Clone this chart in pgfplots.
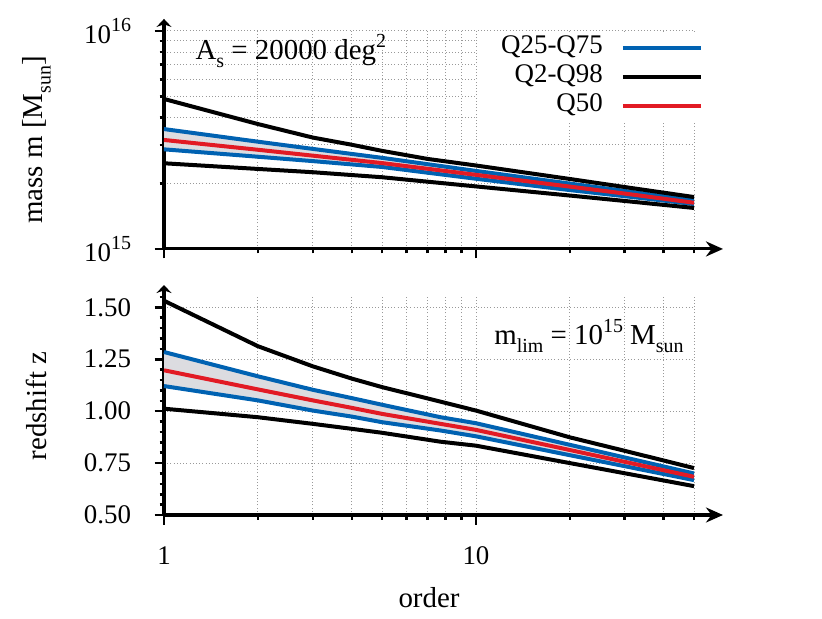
\documentclass[border=0pt]{standalone}
\usepackage{fontspec}
\setmainfont{Liberation Serif}
\usepackage{pgfplots}
\pgfplotsset{compat=1.18}
\usetikzlibrary{arrows.meta}
\definecolor{qblue}{RGB}{0,98,178}
\definecolor{qred}{RGB}{226,26,36}
\definecolor{qfill}{RGB}{220,220,224}
\newcommand{\fs}{\fontsize{29}{34}\selectfont}
\newcommand{\ft}{\fontsize{27}{32}\selectfont}
\newcommand{\sups}[1]{\raisebox{0.44em}{\fontsize{20}{20}\selectfont #1}}
\newcommand{\subs}[1]{\raisebox{-0.27em}{\fontsize{20}{20}\selectfont #1}}
\tikzset{qcurve/.style={line width=4bp, line join=round}}
\begin{document}
\begin{tikzpicture}
\path[use as bounding box] (0,0) rectangle (822bp,619bp);
% ---------- top panel ----------
\begin{axis}[at={(164bp,370bp)}, anchor=south west,
  scale only axis, width=530bp, height=218bp,
  xmode=log, xmin=1, xmax=50,
  xtick={1,10}, minor xtick={2,3,4,5,6,7,8,9,20,30,40,50},
  axis lines=left,
  axis line style={line width=3bp},
  x axis line style={-{Stealth[length=17bp,width=15bp]}, shorten >=-29bp},
  y axis line style={-{Stealth[length=8bp,width=15bp]}, shorten >=-12bp},
  tick align=outside,
  major tick length=9.5bp, minor tick length=4.5bp,
  tick style={line width=2.6bp, black},
  grid style={gray!80, line width=0.9bp, dash pattern=on 1bp off 2.2bp},
  minor grid style={gray!80, line width=0.9bp, dash pattern=on 1bp off 2.2bp},
  tick label style={font=\ft},
  yticklabel style={xshift=-20bp},
  label style={font=\fs},
  ylabel style={at={(axis description cs:-0.24,0.5)}, anchor=center},
  clip=false,
  ymode=log, ymin=1e15, ymax=1e16,
  ytick={1e15,1e16}, yticklabels={10\sups{15},10\sups{16}},
  xticklabels={}, grid=both,
  ylabel={mass m [M\subs{sun}]},
  legend cell align=right, legend plot pos=right, legend columns=1,
  legend style={at={(rel axis cs:1.0604,0.992)}, anchor=north east,
    draw=none, fill=white, font=\ft, inner xsep=23bp, inner ysep=1bp,
    column sep=18bp,
    nodes={inner sep=0pt, text height=20bp, text depth=9bp}},
  legend image code/.code={\draw[#1] (0bp,0bp) -- (78bp,0bp);},
]
\addplot[draw=none, fill=qfill, forget plot] coordinates {(1,3.548e15)(2,3.105e15)(3,2.877e15)(5,2.618e15)(10,2.280e15)(20,1.995e15)(30,1.845e15)(50,1.671e15)(50,1.607e15)(30,1.746e15)(20,1.862e15)(10,2.099e15)(5,2.377e15)(3,2.529e15)(2,2.649e15)(1,2.864e15)} -- cycle;
\addplot[qcurve, qblue, forget plot] coordinates {(1,3.548e15)(2,3.105e15)(3,2.877e15)(5,2.618e15)(10,2.280e15)(20,1.995e15)(30,1.845e15)(50,1.671e15)};
\addplot[qcurve, qblue, forget plot] coordinates {(1,2.864e15)(2,2.649e15)(3,2.529e15)(5,2.377e15)(10,2.099e15)(20,1.862e15)(30,1.746e15)(50,1.607e15)};
\addplot[qcurve, black, forget plot] coordinates {(1,4.875e15)(2,3.741e15)(3,3.243e15)(4,3.006e15)(5,2.818e15)(7,2.588e15)(10,2.415e15)(20,2.094e15)(30,1.923e15)(50,1.730e15)};
\addplot[qcurve, black, forget plot] coordinates {(1,2.472e15)(2,2.328e15)(3,2.249e15)(5,2.133e15)(10,1.936e15)(20,1.758e15)(30,1.660e15)(50,1.542e15)};
\addplot[qcurve, qred, forget plot] coordinates {(1,3.162e15)(2,2.851e15)(3,2.679e15)(5,2.477e15)(10,2.188e15)(20,1.932e15)(30,1.795e15)(50,1.629e15)};
\addlegendimage{qcurve, qblue}
\addlegendentry{Q25-Q75}
\addlegendimage{qcurve, black}
\addlegendentry{Q2-Q98}
\addlegendimage{qcurve, qred}
\addlegendentry{Q50}
\node[anchor=base west, font=\fs] at (rel axis cs:0.053,0.867) {A\subs{s} = 20000 deg\sups{2}};
\end{axis}
% ---------- bottom panel ----------
\begin{axis}[at={(164bp,104bp)}, anchor=south west,
  scale only axis, width=530bp, height=218bp,
  xmode=log, xmin=1, xmax=50,
  xtick={1,10}, minor xtick={2,3,4,5,6,7,8,9,20,30,40,50},
  axis lines=left,
  axis line style={line width=3bp},
  x axis line style={-{Stealth[length=17bp,width=15bp]}, shorten >=-29bp},
  y axis line style={-{Stealth[length=8bp,width=15bp]}, shorten >=-12bp},
  tick align=outside,
  major tick length=9.5bp, minor tick length=4.5bp,
  tick style={line width=2.6bp, black},
  grid style={gray!80, line width=0.9bp, dash pattern=on 1bp off 2.2bp},
  minor grid style={gray!80, line width=0.9bp, dash pattern=on 1bp off 2.2bp},
  tick label style={font=\ft},
  yticklabel style={xshift=-20bp},
  xticklabel style={yshift=-19bp},
  label style={font=\fs},
  ylabel style={at={(axis description cs:-0.24,0.5)}, anchor=center},
  clip=false,
  ymin=0.5, ymax=1.55,
  ytick={0.5,0.75,1,1.25,1.5}, yticklabels={0.50,0.75,1.00,1.25,1.50},
  minor ytick={0.55,0.6,0.65,0.7,0.8,0.85,0.9,0.95,1.05,1.1,1.15,1.2,1.3,1.35,1.4,1.45,1.55},
  xticklabels={1,10},
  xmajorgrids, xminorgrids, ymajorgrids,
  ylabel={redshift z},
  xlabel={order},
  xlabel style={at={(axis description cs:0.5,-0.381)}, anchor=center},
]
\addplot[draw=none, fill=qfill] coordinates {(1,1.285)(2,1.168)(3,1.103)(4,1.063)(5,1.031)(7.7,0.971)(10,0.942)(20,0.838)(30,0.777)(50,0.700)(50,0.668)(30,0.735)(20,0.788)(10,0.879)(7.7,0.907)(5,0.947)(4,0.974)(3,1.003)(2,1.052)(1,1.121)} -- cycle;
\addplot[qcurve, qblue] coordinates {(1,1.285)(2,1.168)(3,1.103)(4,1.063)(5,1.031)(7.7,0.971)(10,0.942)(20,0.838)(30,0.777)(50,0.700)};
\addplot[qcurve, qblue] coordinates {(1,1.121)(2,1.052)(3,1.003)(4,0.974)(5,0.947)(7.7,0.907)(10,0.879)(20,0.788)(30,0.735)(50,0.668)};
\addplot[qcurve, black] coordinates {(1,1.532)(2,1.313)(3,1.216)(4,1.157)(5,1.116)(7.7,1.046)(10,1.003)(20,0.874)(30,0.809)(50,0.726)};
\addplot[qcurve, black] coordinates {(1,1.012)(2,0.971)(3,0.939)(4,0.915)(5,0.896)(7.7,0.853)(10,0.834)(20,0.750)(30,0.701)(50,0.639)};
\addplot[qcurve, qred] coordinates {(1,1.197)(2,1.105)(3,1.052)(4,1.016)(5,0.987)(7.7,0.939)(10,0.910)(20,0.813)(30,0.756)(50,0.684)};
\node[anchor=base east, font=\fs] at (rel axis cs:0.987,0.780) {m\subs{lim} = 10\sups{15} M\subs{sun}};
\end{axis}
\end{tikzpicture}
\end{document}
